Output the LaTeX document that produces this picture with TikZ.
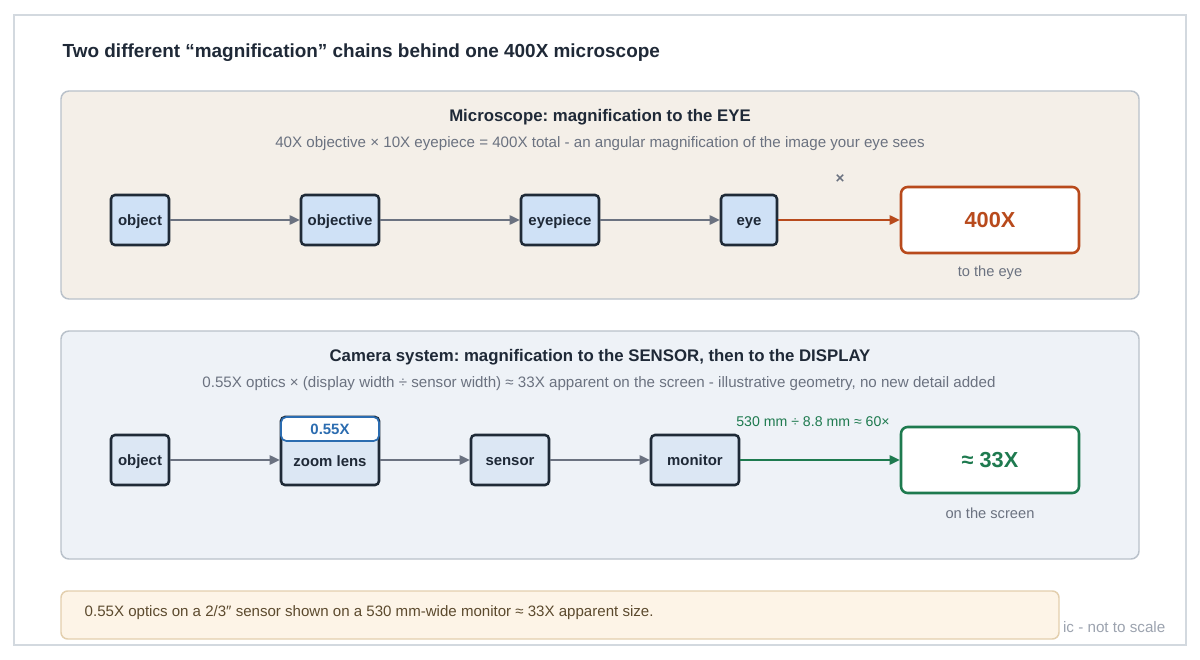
\documentclass[tikz,border=0pt]{standalone}
\usepackage{fontspec}
\setmainfont{Liberation Sans}
\usetikzlibrary{arrows.meta}
\definecolor{frameborder}{HTML}{D3D9DF}
\definecolor{panelborder}{HTML}{B9C1CA}
\definecolor{beige}{HTML}{F4EFE8}
\definecolor{paleblue}{HTML}{EEF2F7}
\definecolor{darkline}{HTML}{1F2A37}
\definecolor{nodefillA}{HTML}{CFE1F6}
\definecolor{nodefillB}{HTML}{DCE7F4}
\definecolor{arrowgray}{HTML}{6B7280}
\definecolor{subgray}{HTML}{6B7280}
\definecolor{rust}{HTML}{B84A1C}
\definecolor{forest}{HTML}{1E7A4F}
\definecolor{tagblue}{HTML}{2B6CB0}
\definecolor{notefill}{HTML}{FDF4E7}
\definecolor{noteborder}{HTML}{E3CFAE}
\definecolor{notetext}{HTML}{5C4A2E}
\definecolor{titletext}{HTML}{1F2937}
\definecolor{faint}{HTML}{9CA3AF}
\begin{document}
\frenchspacing
\begin{tikzpicture}[x=0.75pt,y=-0.75pt,
  panel/.style={draw=panelborder,line width=1.1pt,rounded corners=6pt},
  chainbox/.style={draw=darkline,line width=1.9pt,rounded corners=3pt,
    minimum height=50*0.75pt,inner sep=0pt,text height=8pt,text depth=0.5pt,
    font=\bfseries\fontsize{11.2}{13}\selectfont,text=titletext},
  resbox/.style={draw=#1,line width=1.9pt,fill=white,rounded corners=5pt,
    minimum width=178*0.75pt,minimum height=66*0.75pt,font=\bfseries\fontsize{16.3}{19}\selectfont,text=#1},
  flow/.style={draw=#1,line width=1.1pt,-{Triangle[length=7.5pt,width=7pt]}},
  ptitle/.style={font=\bfseries\fontsize{12.6}{15}\selectfont,text=titletext},
  psub/.style={font=\fontsize{11.35}{13}\selectfont,text=subgray},
  caption/.style={font=\fontsize{11}{13}\selectfont,text=subgray}
]
\useasboundingbox (0,0) rectangle (1200,660);
\fill[white] (0,0) rectangle (1200,660);
\draw[frameborder,line width=1.1pt,fill=white] (14,15) rectangle (1186,645);

\node[anchor=west,font=\bfseries\fontsize{14.2}{17}\selectfont,text=titletext] (title) at (58,53)
  {Two different “magnification” chains behind one 400X microscope};

% Panel 1
\draw[panel,fill=beige] (61,91) rectangle (1139,299);
\node[ptitle] (p1title) at (600,117) {Microscope: magnification to the EYE};
\node[psub] (p1sub) at (600,144) {40X objective × 10X eyepiece = 400X total - an angular magnification of the image your eye sees};

\node[chainbox,fill=nodefillA,minimum width=58*0.75pt] (objA) at (140,220) {object};
\node[chainbox,fill=nodefillA,minimum width=78*0.75pt] (objv) at (340,220) {objective};
\node[chainbox,fill=nodefillA,minimum width=78*0.75pt] (eyep) at (560,220) {eyepiece};
\node[chainbox,fill=nodefillA,minimum width=56*0.75pt] (eye) at (749,220) {eye};
\node[resbox=rust] (resA) at (990,220) {400X};
\node[font=\bfseries\fontsize{11.5}{12}\selectfont,text=arrowgray] (times) at (840,179) {×};
\node[caption] (capA) at (990,273) {to the eye};

\draw[flow=arrowgray] (objA.east) -- (objv.west);
\draw[flow=arrowgray] (objv.east) -- (eyep.west);
\draw[flow=arrowgray] (eyep.east) -- (eye.west);
\draw[flow=rust] (eye.east) -- (resA.west);

% Panel 2
\draw[panel,fill=paleblue] (61,331) rectangle (1139,559);
\node[ptitle] (p2title) at (600,357) {Camera system: magnification to the SENSOR, then to the DISPLAY};
\node[psub] (p2sub) at (599,384) {0.55X optics × (display width ÷ sensor width) ≈ 33X apparent on the screen - illustrative geometry, no new detail added};

\node[chainbox,fill=nodefillB,minimum width=58*0.75pt] (objB) at (140,460) {object};
\node[chainbox,fill=nodefillB,minimum width=98*0.75pt,minimum height=68*0.75pt] (zoom) at (330,451) {};
\node[text height=8pt,text depth=0.5pt,inner sep=0pt,font=\bfseries\fontsize{11.2}{13}\selectfont,text=titletext] (zoomtxt) at (330,461) {zoom lens};
\node[draw=tagblue,line width=1.3pt,fill=white,rounded corners=4pt,minimum width=98*0.75pt,minimum height=24*0.75pt,inner sep=0pt,
  text height=8pt,text depth=0.5pt,font=\bfseries\fontsize{11.2}{13}\selectfont,text=tagblue] (tag) at (330,429) {0.55X};
\node[chainbox,fill=nodefillB,minimum width=78*0.75pt] (sens) at (510,460) {sensor};
\node[chainbox,fill=nodefillB,minimum width=88*0.75pt] (moni) at (695,460) {monitor};
\node[resbox=forest] (resB) at (990,460) {≈ 33X};
\node[font=\fontsize{10.6}{12}\selectfont,text=forest] (ratio) at (813,422) {530 mm ÷ 8.8 mm ≈ 60×};
\node[caption] (capB) at (990,513) {on the screen};

\draw[flow=arrowgray] (objB.east) -- (objB.east -| zoom.west);
\draw[flow=arrowgray] (objB.east -| zoom.east) -- (sens.west);
\draw[flow=arrowgray] (sens.east) -- (moni.west);
\draw[flow=forest] (moni.east) -- (resB.west);

% Note
\node[anchor=east,font=\fontsize{11.4}{13}\selectfont,text=faint] (scale) at (1170,627) {ic - not to scale};
\draw[draw=noteborder,line width=1.1pt,fill=notefill,rounded corners=5pt] (61,591) rectangle (1059,639);
\node[anchor=west,font=\fontsize{11.3}{13}\selectfont,text=notetext] (note) at (80,613)
  {0.55X optics on a 2/3″ sensor shown on a 530 mm-wide monitor ≈ 33X apparent size.};
\end{tikzpicture}
\end{document}
